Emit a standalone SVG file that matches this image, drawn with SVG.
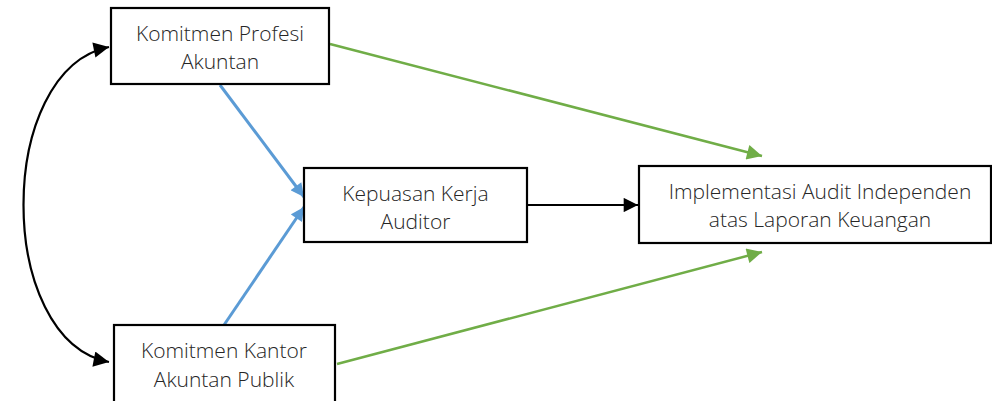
<svg xmlns="http://www.w3.org/2000/svg" width="992" height="401" viewBox="0 0 992 401">
<style>
.box{fill:#fff;stroke:#000;stroke-width:2.2}
.t{font-family:"Open Sans","Liberation Sans",sans-serif;font-weight:300;font-size:21px;fill:#262626;text-anchor:middle}
.blue{stroke:#5B9BD5;stroke-width:3;fill:none}
.green{stroke:#70AD47;stroke-width:2.5;fill:none}
.black{stroke:#000;stroke-width:2.2;fill:none}
</style>
<defs>
<marker id="ab" viewBox="0 0 10 10" refX="10" refY="5" markerWidth="5" markerHeight="4.5" orient="auto" markerUnits="strokeWidth"><path d="M0,0 L10,5 L0,10 z" fill="#5B9BD5"/></marker>
<marker id="ag" viewBox="0 0 10 10" refX="10" refY="5" markerWidth="7" markerHeight="6" orient="auto" markerUnits="strokeWidth"><path d="M0,0 L10,5 L0,10 z" fill="#70AD47"/></marker>
<marker id="ak" viewBox="0 0 10 10" refX="10" refY="5" markerWidth="7" markerHeight="6.5" orient="auto" markerUnits="strokeWidth"><path d="M0,0 L10,5 L0,10 z" fill="#000"/></marker>
<marker id="aks" viewBox="0 0 10 10" refX="10" refY="5" markerWidth="7.5" markerHeight="7" orient="auto-start-reverse" markerUnits="strokeWidth"><path d="M0,0 L10,5 L0,10 z" fill="#000"/></marker>
</defs>
<g id="connectors">
<path class="black" d="M109,47 C-5,70 -5,340 109,362" marker-start="url(#aks)" marker-end="url(#aks)"/>
<line class="blue" x1="220" y1="85" x2="304" y2="197" marker-end="url(#ab)"/>
<line class="blue" x1="224" y1="325" x2="304" y2="207" marker-end="url(#ab)"/>
<line class="green" x1="330" y1="44" x2="762" y2="156" marker-end="url(#ag)"/>
<line class="green" x1="337" y1="364" x2="762" y2="252" marker-end="url(#ag)"/>
<line class="black" x1="527" y1="205" x2="638" y2="205" marker-end="url(#ak)"/>
</g>
<g id="node-profesi">
<rect class="box" x="111" y="8" width="218" height="76"/>
<text class="t" x="220" y="41">Komitmen Profesi</text>
<text class="t" x="220" y="69">Akuntan</text>
</g>
<g id="node-kantor">
<rect class="box" x="114" y="325" width="221" height="78"/>
<text class="t" x="224" y="358">Komitmen Kantor</text>
<text class="t" x="224" y="387">Akuntan Publik</text>
</g>
<g id="node-kepuasan">
<rect class="box" x="304" y="168" width="223" height="74"/>
<text class="t" x="415.5" y="201">Kepuasan Kerja</text>
<text class="t" x="415.5" y="229">Auditor</text>
</g>
<g id="node-implementasi">
<rect class="box" x="639" y="166" width="352" height="77"/>
<text class="t" x="820" y="199">Implementasi Audit Independen</text>
<text class="t" x="820" y="227">atas Laporan Keuangan</text>
</g>
</svg>
